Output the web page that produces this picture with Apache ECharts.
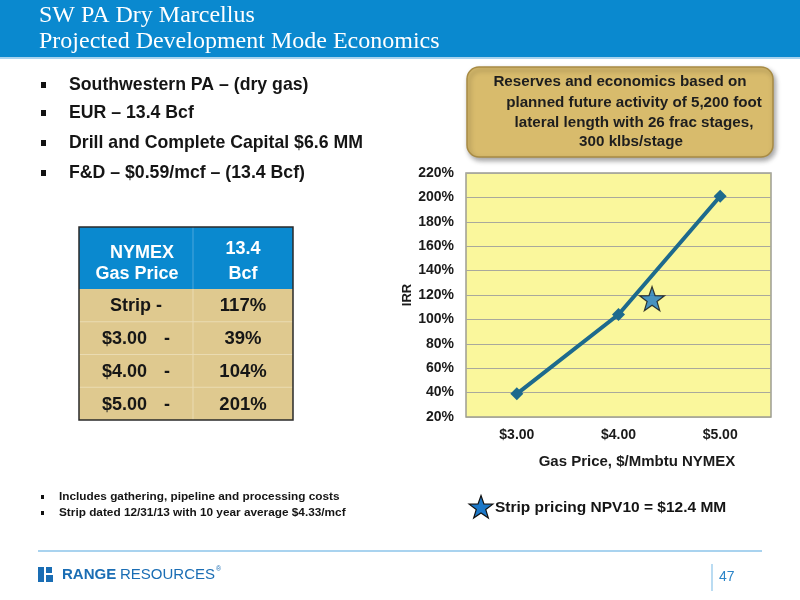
<!DOCTYPE html>
<html>
<head>
<meta charset="utf-8">
<script src="https://cdn.jsdelivr.net/npm/echarts@6/dist/echarts.min.js"></script>
<style>
html,body{margin:0;padding:0;background:#fff;}
#c{width:800px;height:600px;}
</style>
</head>
<body>
<div id="c"></div>
<script>
// ---- data ----
const titleLines = ['SW PA Dry Marcellus', 'Projected Development Mode Economics'];
const bullets = ['Southwestern PA \u2013 (dry gas)', 'EUR \u2013 13.4 Bcf', 'Drill and Complete Capital $6.6 MM', 'F&D \u2013 $0.59/mcf \u2013 (13.4 Bcf)'];
const calloutLines = ['Reserves and economics based on', 'planned future activity of 5,200 foot', 'lateral length with 26 frac stages,', '300 klbs/stage'];
const tableHeader = [['NYMEX', 'Gas Price'], ['13.4', 'Bcf']];
const tablePrices = ['Strip', '$3.00', '$4.00', '$5.00'];
const tableIRR = ['117%', '39%', '104%', '201%'];
const gasPrices = [3.00, 4.00, 5.00];
const irrValues = [39, 104, 201];
const stripPrice = 4.33;
const stripIRR = 117;
const footnotes = ['Includes gathering, pipeline and processing costs', 'Strip dated 12/31/13 with 10 year average $4.33/mcf'];
const legendText = 'Strip pricing NPV10 = $12.4 MM';
const pageNumber = '47';

const SANS = '"Liberation Sans", Arial, Helvetica, sans-serif';
const NARROW = '"Liberation Sans Narrow", "Arial Narrow", "Liberation Sans", sans-serif';
const SERIF = '"Liberation Serif", "Times New Roman", serif';
const starPts = [[0,-10],[2.35,-3.24],[9.51,-3.09],[3.8,1.24],[5.88,8.09],[0,4],[-5.88,8.09],[-3.8,1.24],[-9.51,-3.09],[-2.35,-3.24]];
const starPath = 'M' + starPts.map(p => p[0] + ',' + p[1]).join(' L') + ' Z';

function txt(t, x, y, font, fill, align, z) {
  return {type: 'text', z: z || 10, style: {text: t, x: x, y: y, font: font, fill: fill,
    textAlign: align || 'left', align: align || 'left', textVerticalAlign: 'middle', verticalAlign: 'middle'}};
}

const g = [];
// title bar
g.push({type: 'rect', shape: {x: 0, y: 0, width: 800, height: 57}, style: {fill: '#0a89cf'}});
g.push({type: 'rect', shape: {x: 0, y: 57, width: 800, height: 2}, style: {fill: '#a9d3ee'}});
g.push(txt(titleLines[0], 39, 16, '24px ' + SERIF, '#ffffff'));
g.push(txt(titleLines[1], 39, 42, '24px ' + SERIF, '#ffffff'));

// bullets
const bulletY = [85, 113, 143, 173];
bullets.forEach((b, i) => {
  g.push({type: 'rect', shape: {x: 41, y: bulletY[i] - 3, width: 5, height: 6}, style: {fill: '#111'}});
  g.push(txt(b, 69, bulletY[i], 'bold 17.7px ' + SANS, '#151515'));
});

// callout box
g.push({type: 'rect', shape: {x: 467, y: 67, width: 306, height: 90, r: 12},
  style: {fill: '#d8bb6c', stroke: '#a88b44', lineWidth: 1.5, shadowBlur: 5, shadowOffsetX: 2, shadowOffsetY: 3, shadowColor: 'rgba(0,0,0,0.35)'}});
const calloutX = [620, 634, 634, 631];
const calloutY = [82, 103, 123, 142];
calloutLines.forEach((l, i) => g.push(txt(l, calloutX[i], calloutY[i], 'bold 15.2px ' + SANS, '#1e1e1e', 'center')));

// table
const tx0 = 79, tx1 = 193, tx2 = 293, ty0 = 227, tyH = 289, rowH = 32.75;
g.push({type: 'rect', shape: {x: tx0, y: ty0, width: tx2 - tx0, height: tyH - ty0}, style: {fill: '#0a89cf'}});
g.push({type: 'rect', shape: {x: tx0, y: tyH, width: tx2 - tx0, height: rowH * 4}, style: {fill: '#dfc98f'}});
for (let i = 1; i < 4; i++) {
  g.push({type: 'line', shape: {x1: tx0, y1: tyH + rowH * i, x2: tx2, y2: tyH + rowH * i}, style: {stroke: '#eadbb2', lineWidth: 1}});
}
g.push({type: 'line', shape: {x1: tx1, y1: ty0, x2: tx1, y2: tyH}, style: {stroke: '#4aa6dc', lineWidth: 1}});
g.push({type: 'line', shape: {x1: tx1, y1: tyH, x2: tx1, y2: tyH + rowH * 4}, style: {stroke: '#eadbb2', lineWidth: 1}});
g.push({type: 'rect', shape: {x: tx0, y: ty0, width: tx2 - tx0, height: tyH - ty0 + rowH * 4}, style: {fill: 'none', stroke: '#2a2a2a', lineWidth: 1.5}});
g.push(txt(tableHeader[0][0], 142, 253, 'bold 18px ' + SANS, '#ffffff', 'center'));
g.push(txt(tableHeader[0][1], 137, 274, 'bold 18px ' + SANS, '#ffffff', 'center'));
g.push(txt(tableHeader[1][0], 243, 249, 'bold 18px ' + SANS, '#ffffff', 'center'));
g.push(txt(tableHeader[1][1], 243, 274, 'bold 18px ' + SANS, '#ffffff', 'center'));
tablePrices.forEach((p, i) => {
  const y = tyH + rowH * i + rowH / 2 + 1;
  if (i === 0) {
    g.push(txt(p + ' -', 136, y, 'bold 18px ' + SANS, '#161616', 'center'));
  } else {
    g.push(txt(p, 102, y, 'bold 18px ' + SANS, '#161616'));
    g.push(txt('-', 167, y, 'bold 18px ' + SANS, '#161616', 'center'));
  }
  g.push(txt(tableIRR[i], 243, y, 'bold 18.5px ' + SANS, '#161616', 'center'));
});

// footnotes
const footY = [497, 513];
footnotes.forEach((f, i) => {
  g.push({type: 'rect', shape: {x: 41, y: footY[i] - 2, width: 3, height: 4}, style: {fill: '#111'}});
  g.push(txt(f, 59, footY[i], 'bold 11.8px ' + NARROW, '#151515'));
});

// legend star
const lsx = 481, lsy = 508, lss = 1.25;
g.push({type: 'polygon', z: 10, shape: {points: starPts.map(p => [lsx + p[0] * lss, lsy + p[1] * lss])},
  style: {fill: '#1c78c8', stroke: '#111', lineWidth: 1.2}});
g.push(txt(legendText, 495, 508, 'bold 15.5px ' + SANS, '#151515'));

// footer
g.push({type: 'line', shape: {x1: 38, y1: 551, x2: 762, y2: 551}, style: {stroke: '#8cc4ea', lineWidth: 1.5}});
g.push({type: 'rect', shape: {x: 38, y: 567, width: 6, height: 15}, style: {fill: '#1a6db4'}});
g.push({type: 'rect', shape: {x: 46, y: 567, width: 6, height: 6}, style: {fill: '#1a6db4'}});
g.push({type: 'rect', shape: {x: 46, y: 575, width: 7, height: 7}, style: {fill: '#1a6db4'}});
g.push(txt('RANGE', 62, 575, 'bold 15px ' + SANS, '#1a6db4'));
g.push(txt('RESOURCES', 120, 575, '15px ' + SANS, '#1a6db4'));
g.push(txt('\u00ae', 216, 569, '7px ' + SANS, '#1a6db4'));
g.push({type: 'line', shape: {x1: 712, y1: 564, x2: 712, y2: 591}, style: {stroke: '#8cc4ea', lineWidth: 1.2}});
g.push(txt(pageNumber, 719, 577, '14px ' + NARROW, '#2a84c8'));

const chart = echarts.init(document.getElementById('c'), null, {renderer: 'canvas'});
chart.setOption({
  animation: false,
  backgroundColor: '#ffffff',
  graphic: {elements: g},
  grid: {left: 466, right: 29, top: 173, bottom: 183, show: true, backgroundColor: '#faf79c', borderColor: '#9d9d92', borderWidth: 1.5},
  xAxis: {
    type: 'value', min: 2.5, max: 5.5, interval: 0.5,
    axisLine: {show: false}, axisTick: {show: false}, splitLine: {show: false},
    axisLabel: {formatter: v => (Math.abs(v - Math.round(v)) < 1e-9 ? '$' + v.toFixed(2) : ''),
      color: '#1a1a1a', fontWeight: 'bold', fontSize: 14, fontFamily: SANS, margin: 11},
    name: 'Gas Price, $/Mmbtu NYMEX', nameLocation: 'middle', nameGap: 37,
    nameTextStyle: {color: '#1a1a1a', fontWeight: 'bold', fontSize: 15, fontFamily: SANS, padding: [0, 0, 0, 37]}
  },
  yAxis: {
    type: 'value', min: 20, max: 220, interval: 20,
    axisLine: {show: false}, axisTick: {show: false},
    splitLine: {lineStyle: {color: '#a9a99c', width: 1}},
    axisLabel: {formatter: '{value}%', color: '#1a1a1a', fontWeight: 'bold', fontSize: 14, fontFamily: SANS, margin: 12},
    name: 'IRR', nameLocation: 'middle', nameGap: 50,
    nameTextStyle: {color: '#1a1a1a', fontWeight: 'bold', fontSize: 13, fontFamily: SANS}
  },
  series: [
    {type: 'line', data: gasPrices.map((p, i) => [p, irrValues[i]]), symbol: 'diamond', symbolSize: 13,
      lineStyle: {color: '#1d6a8d', width: 4}, itemStyle: {color: '#1d6a8d'}, z: 3},
    {type: 'scatter', data: [[stripPrice, stripIRR]], symbol: 'path://' + starPath, symbolSize: [25, 24],
      itemStyle: {color: '#1c78c8', borderColor: '#111', borderWidth: 1.2}, z: 4}
  ]
});
</script>
</body>
</html>
